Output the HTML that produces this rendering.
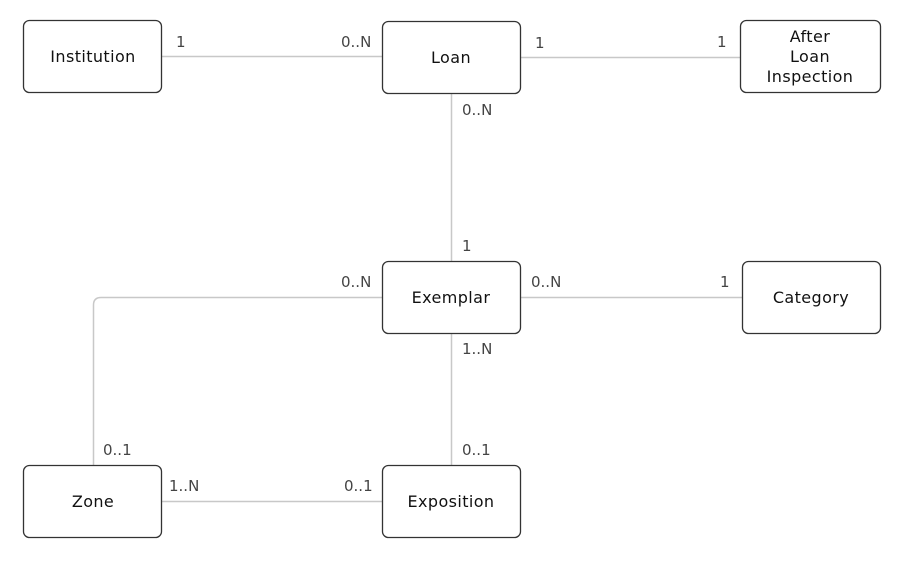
<!DOCTYPE html>
<html><head><meta charset="utf-8"><style>
body{margin:0;background:#fff;width:922px;height:562px;overflow:hidden}
svg text{font-family:"DejaVu Sans","Liberation Sans",sans-serif}
</style></head><body>
<svg width="922" height="562" xmlns="http://www.w3.org/2000/svg">
<g stroke="#c8c8c8" stroke-width="1.5" fill="none">
<line x1="162" y1="56.5" x2="382" y2="56.5"/>
<line x1="521" y1="57.5" x2="740" y2="57.5"/>
<line x1="451.5" y1="93" x2="451.5" y2="261"/>
<line x1="521" y1="297.5" x2="742" y2="297.5"/>
<path d="M382 297.5 H101 Q93.5 297.5 93.5 305 V465"/>
<line x1="451.5" y1="333" x2="451.5" y2="465"/>
<line x1="162" y1="501.5" x2="382" y2="501.5"/>
</g>
<g stroke="#333" stroke-width="1.3" fill="#fff">
<rect x="23.5" y="20.5" width="138" height="72" rx="6"/>
<rect x="382.5" y="21.5" width="138" height="72" rx="6"/>
<rect x="740.5" y="20.5" width="140" height="72" rx="6"/>
<rect x="382.5" y="261.5" width="138" height="72" rx="6"/>
<rect x="742.5" y="261.5" width="138" height="72" rx="6"/>
<rect x="23.5" y="465.5" width="138" height="72" rx="6"/>
<rect x="382.5" y="465.5" width="138" height="72" rx="6"/>
</g>
<g fill="#111" font-size="16" letter-spacing="0.4" text-anchor="middle">
<text x="93" y="62">Institution</text>
<text x="451" y="63">Loan</text>
<text x="810" y="42">After</text>
<text x="810" y="62">Loan</text>
<text x="810" y="82">Inspection</text>
<text x="451" y="303">Exemplar</text>
<text x="811" y="303">Category</text>
<text x="93" y="507">Zone</text>
<text x="451" y="507">Exposition</text>
</g>
<g fill="#444" font-size="15">
<text x="176" y="47">1</text>
<text x="341" y="47">0..N</text>
<text x="535" y="48">1</text>
<text x="717" y="47">1</text>
<text x="462" y="115">0..N</text>
<text x="462" y="251">1</text>
<text x="341" y="287">0..N</text>
<text x="531" y="287">0..N</text>
<text x="720" y="287">1</text>
<text x="462" y="354">1..N</text>
<text x="103" y="455">0..1</text>
<text x="462" y="455">0..1</text>
<text x="169" y="491">1..N</text>
<text x="344" y="491">0..1</text>
</g>
</svg>
</body></html>
